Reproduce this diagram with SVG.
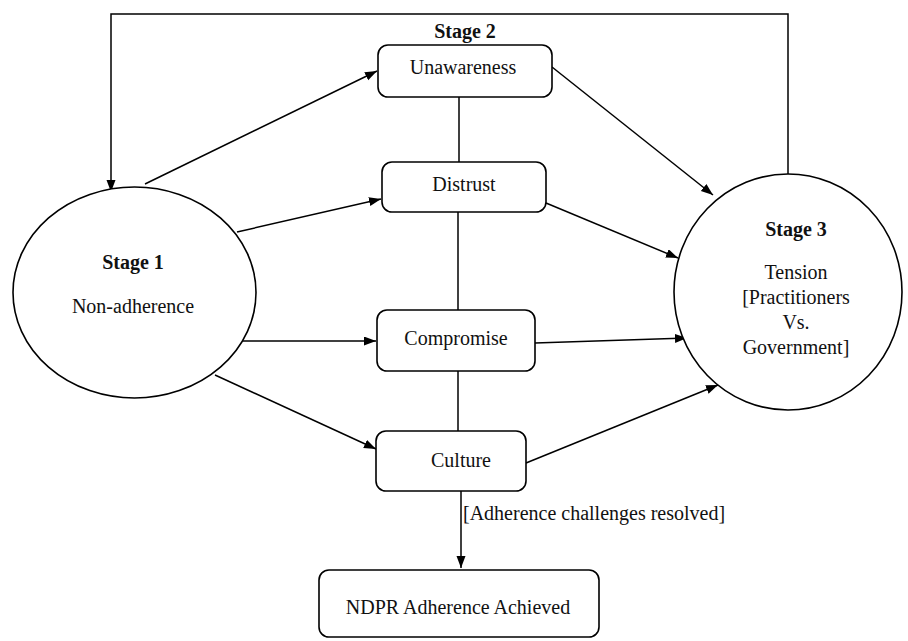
<svg xmlns="http://www.w3.org/2000/svg" width="908" height="641" viewBox="0 0 908 641" font-family="'Liberation Serif', 'DejaVu Serif', serif">
<defs>
<marker id="ah" markerUnits="userSpaceOnUse" markerWidth="13" markerHeight="10" refX="12" refY="4.5" orient="auto">
<path d="M0,0 L12,4.5 L0,9 z" fill="#000"/>
</marker>
<style>
.s{fill:#fff;stroke:#000;stroke-width:1.6}
.c{fill:none;stroke:#000;stroke-width:1.5}
.a{fill:none;stroke:#000;stroke-width:1.5;marker-end:url(#ah)}
text{font-family:'Liberation Serif','DejaVu Serif',serif;font-size:20px;fill:#111;text-anchor:middle}
.b{font-weight:bold}
</style>
</defs>
<rect width="908" height="641" fill="#fff"/>
<g id="connectors">
<polyline class="a" points="788,174 788,14 111,14 111,192"/>
<line class="c" x1="459" y1="97" x2="459" y2="162"/>
<line class="c" x1="458" y1="212" x2="458" y2="310"/>
<line class="c" x1="458" y1="371" x2="458" y2="431"/>
<line class="a" x1="145" y1="184" x2="377" y2="71"/>
<line class="a" x1="237" y1="232" x2="381" y2="199"/>
<line class="a" x1="243" y1="341" x2="376" y2="341"/>
<line class="a" x1="215" y1="375" x2="376" y2="449"/>
<line class="a" x1="552" y1="67" x2="713" y2="195"/>
<line class="a" x1="546" y1="203" x2="678" y2="258"/>
<line class="a" x1="535" y1="343" x2="687" y2="338"/>
<line class="a" x1="526" y1="463" x2="718" y2="385"/>
<line class="a" x1="461" y1="491" x2="461" y2="568"/>
<text x="463" y="520" style="text-anchor:start">[Adherence challenges resolved]</text>
</g>
<g id="stage1">
<ellipse class="s" cx="134.5" cy="292.5" rx="121.5" ry="105.5"/>
<text class="b" x="133" y="269">Stage 1</text>
<text x="133" y="313">Non-adherence</text>
</g>
<g id="stage2-label">
<text class="b" x="465" y="38">Stage 2</text>
</g>
<g id="unawareness">
<rect class="s" x="378" y="45" width="174" height="52" rx="10"/>
<text x="463" y="74">Unawareness</text>
</g>
<g id="distrust">
<rect class="s" x="382" y="162" width="164" height="50" rx="10"/>
<text x="464" y="191">Distrust</text>
</g>
<g id="compromise">
<rect class="s" x="377" y="310" width="158" height="61" rx="10"/>
<text x="456" y="345">Compromise</text>
</g>
<g id="culture">
<rect class="s" x="376" y="431" width="150" height="60" rx="10"/>
<text x="461" y="467">Culture</text>
</g>
<g id="ndpr">
<rect class="s" x="319" y="570" width="280" height="67" rx="10"/>
<text x="458" y="614">NDPR Adherence Achieved</text>
</g>
<g id="stage3">
<ellipse class="s" cx="788" cy="292" rx="114" ry="118"/>
<text class="b" x="796" y="236">Stage 3</text>
<text x="796" y="279">Tension</text>
<text x="796" y="304">[Practitioners</text>
<text x="796" y="329">Vs.</text>
<text x="796" y="354">Government]</text>
</g>
</svg>
